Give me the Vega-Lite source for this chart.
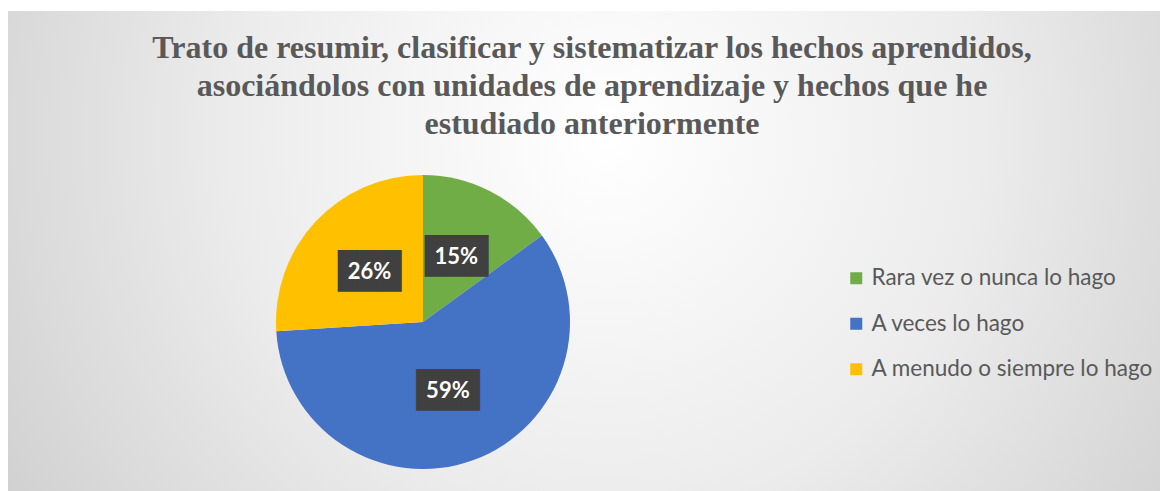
{
  "$schema": "https://vega.github.io/schema/vega-lite/v6.json",
  "autosize": "none",
  "width": 1152,
  "height": 480,
  "padding": {"left": 8, "top": 11, "right": 0, "bottom": 0},
  "background": "#ffffff",
  "config": {"view": {"stroke": null}},
  "title": {
    "text": ["Trato de resumir, clasificar y sistematizar los hechos aprendidos,", "asociándolos con unidades de aprendizaje y hechos que he", "estudiado anteriormente"],
    "font": "Liberation Serif",
    "fontSize": 32,
    "fontWeight": "bold",
    "color": "#595959",
    "anchor": "middle",
    "frame": "group",
    "baseline": "top",
    "lineHeight": 38,
    "offset": 0,
    "dx": 8,
    "dy": 130
  },
  "data": {
    "values": [
      {"categoria": "Rara vez o nunca lo hago", "valor": 0.15, "orden": 1},
      {"categoria": "A veces lo hago", "valor": 0.59, "orden": 2},
      {"categoria": "A menudo o siempre lo hago", "valor": 0.26, "orden": 3}
    ]
  },
  "layer": [
    {
      "data": {"values": [{}]},
      "mark": {
        "type": "rect",
        "color": {
          "gradient": "radial",
          "x1": 0.52, "y1": 0.4, "r1": 0,
          "x2": 0.52, "y2": 0.4, "r2": 0.72,
          "stops": [
            {"offset": 0, "color": "#ffffff"},
            {"offset": 0.45, "color": "#ececec"},
            {"offset": 1, "color": "#c6c6c6"}
          ]
        }
      },
      "encoding": {}
    },
    {
      "mark": {"type": "arc", "outerRadius": 147, "x": 415, "y": 311, "stroke": null},
      "encoding": {
        "theta": {"field": "valor", "type": "quantitative", "stack": true},
        "order": {"field": "orden", "type": "quantitative"},
        "color": {
          "field": "categoria",
          "type": "nominal",
          "sort": ["Rara vez o nunca lo hago", "A veces lo hago", "A menudo o siempre lo hago"],
          "scale": {
            "domain": ["Rara vez o nunca lo hago", "A veces lo hago", "A menudo o siempre lo hago"],
            "range": ["#70AD47", "#4472C4", "#FFC000"]
          },
          "legend": {
            "title": null,
            "orient": "none",
            "legendX": 837,
            "legendY": 256,
            "symbolType": "square",
            "symbolSize": 144,
            "symbolStrokeWidth": 0,
            "labelFont": "Lato",
            "labelFontSize": 22.5,
            "labelColor": "#595959",
            "labelOffset": 4,
            "labelLimit": 400,
            "rowPadding": 22.5
          }
        }
      }
    },
    {
      "mark": {"type": "text", "text": "███", "font": "DejaVu Sans Mono", "fontSize": 35, "color": "#404040", "radius": 73.5, "x": 415, "y": 311, "align": "center", "baseline": "middle"},
      "encoding": {
        "theta": {"field": "valor", "type": "quantitative", "stack": true},
        "order": {"field": "orden", "type": "quantitative"}
      }
    },
    {
      "mark": {"type": "text", "font": "Lato", "fontSize": 22, "fontWeight": "bold", "color": "#ffffff", "radius": 73.5, "x": 415, "y": 311, "align": "center", "baseline": "middle"},
      "encoding": {
        "theta": {"field": "valor", "type": "quantitative", "stack": true},
        "order": {"field": "orden", "type": "quantitative"},
        "text": {"field": "valor", "type": "quantitative", "format": ".0%"}
      }
    }
  ]
}
